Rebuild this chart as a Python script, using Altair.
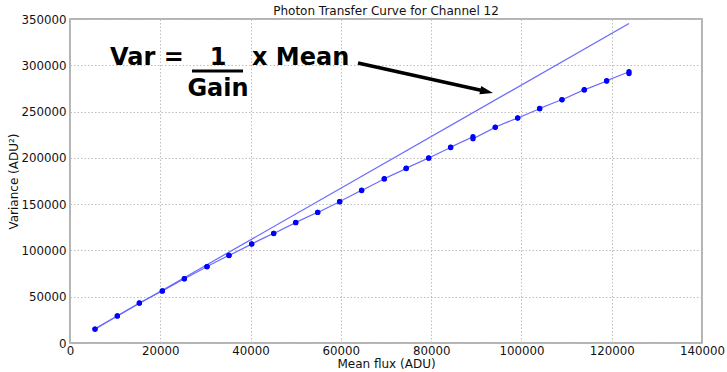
import altair as alt
import pandas as pd

# Measured data: mean flux and the two variance estimates at each level
flux = [5540, 10480, 15360, 20450, 25330, 30350, 35220, 40250, 45120, 50000,
        54870, 59740, 64600, 69620, 74470, 79450, 84320, 89270, 94210, 99170,
        104040, 108980, 113920, 118880, 123830]
var_a = [15100, 29200, 43200, 56200, 69500, 82400, 94700, 106900, 118500, 130000,
         141200, 152600, 165000, 177200, 188500, 200000, 211200, 222800, 233000, 243200,
         253100, 263000, 273600, 283000, 293000]
var_b = [15000, 29300, 43100, 56300, 69400, 82600, 94500, 107100, 118300, 130200,
         141000, 152800, 164700, 177500, 188800, 199700, 211500, 220700, 233300, 243000,
         253300, 262700, 273400, 283300, 291000]

# Linear fit (endpoints)
fit_x = [5540, 123830]
fit_y = [15440, 345100]

# Annotation (data coordinates)
ann_text = ["Var =", "1", "x Mean", "Gain"]
ann_x = [8861, 32785, 40316, 32785]
ann_y = [300309, 300309, 300309, 266820]
ann_align = ["left", "center", "left", "center"]
frac_x = [27025, 38323]
frac_y = 293827
arrow_x = [63797, 91515]
arrow_y = [302469, 272440]
arrow_tip = (93703, 270062)

rows = []
for i, (x, a, b) in enumerate(zip(flux, var_a, var_b)):
    rows.append({"flux": x, "var": a, "order": 2 * i})
    rows.append({"flux": x, "var": b, "order": 2 * i + 1})
df = pd.DataFrame(rows)
fit_df = pd.DataFrame({"flux": fit_x, "var": fit_y})

FONT = "DejaVu Sans"
xs = alt.Scale(domain=[0, 140000], nice=False, zero=False)
ys = alt.Scale(domain=[0, 350000], nice=False, zero=False)
xax = alt.X("flux:Q", scale=xs, title="Mean flux (ADU)",
            axis=alt.Axis(values=list(range(0, 140001, 20000)), format="d",
                          labelFlush=False, labelPadding=2.5, titlePadding=1.5))
yax = alt.Y("var:Q", scale=ys, title="Variance (ADU²)",
            axis=alt.Axis(values=list(range(0, 350001, 50000)), format="d",
                          labelPadding=4, titlePadding=0))

base = alt.Chart(df)
data_line = base.mark_line(color="#6a6aff", strokeWidth=1.2).encode(
    x=xax, y=yax, order="order:Q")
pts = base.mark_circle(color="#0000ff", size=28, opacity=1).encode(x="flux:Q", y="var:Q")
fit_line = alt.Chart(fit_df).mark_line(color="#6a6aff", strokeWidth=1.2).encode(
    x="flux:Q", y="var:Q")

ann_df = pd.DataFrame({"t": ann_text, "x": ann_x, "y": ann_y, "al": ann_align})
txt_left = alt.Chart(ann_df[ann_df.al == "left"]).mark_text(
    font=FONT, fontSize=24, fontWeight="bold", align="left", baseline="alphabetic",
    color="black").encode(x="x:Q", y="y:Q", text="t:N")
txt_center = alt.Chart(ann_df[ann_df.al == "center"]).mark_text(
    font=FONT, fontSize=24, fontWeight="bold", align="center", baseline="alphabetic",
    color="black").encode(x="x:Q", y="y:Q", text="t:N")
frac = alt.Chart(pd.DataFrame({"x": [frac_x[0]], "x2": [frac_x[1]], "y": [frac_y]})).mark_rule(
    color="black", strokeWidth=3).encode(x="x:Q", x2="x2:Q", y="y:Q")
arrow = alt.Chart(pd.DataFrame({"x": arrow_x, "y": arrow_y})).mark_line(
    color="black", strokeWidth=3.5).encode(x="x:Q", y="y:Q")
head = alt.Chart(pd.DataFrame({"x": [arrow_tip[0]], "y": [arrow_tip[1]]})).mark_point(
    shape="M0,0 L-2,-0.65 L-2,0.65 Z", size=169, filled=True, color="black",
    opacity=1, angle=12.5).encode(x="x:Q", y="y:Q")

chart = alt.layer(data_line, fit_line, pts, frac, arrow, head, txt_left, txt_center).properties(
    width=632, height=324,
    title=alt.Title("Photon Transfer Curve for Channel 12", font=FONT, fontSize=12,
                    fontWeight="normal", color="#111", offset=-4),
    autosize=alt.AutoSizeParams(type="none"),
    padding={"left": 70, "top": 19, "right": 25, "bottom": 29},
    background="white",
).configure_view(stroke="#9a9a9a", strokeWidth=1.5).configure_axis(
    labelFont=FONT, labelFontSize=11.8, labelColor="#111",
    titleFont=FONT, titleFontSize=12, titleColor="#111", titleFontWeight="normal",
    domain=False, ticks=False,
    grid=True, gridColor="#bdbdbd", gridDash=[1.5, 2], gridWidth=1,
)

chart.save("out.html", embed_options={"renderer": "svg", "actions": False})
